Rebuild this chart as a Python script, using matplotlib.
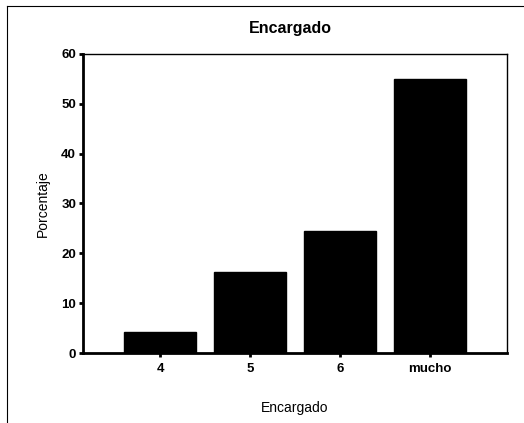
import matplotlib
matplotlib.use("Agg")
import matplotlib.pyplot as plt
from matplotlib.lines import Line2D

categories = ["4", "5", "6", "mucho"]
porcentaje = [4.2, 16.3, 24.5, 55.0]
yticks = [0, 10, 20, 30, 40, 50, 60]

plt.rcParams['font.family'] = ['Liberation Sans', 'DejaVu Sans']

W, H = 524, 423
fig = plt.figure(figsize=(W / 100, H / 100), dpi=100)
fig.patch.set_facecolor("white")

# axes box in pixels: left 83, right 507, top 54, bottom 353
ax = fig.add_axes([83 / W, 1 - 353 / H, (507 - 83) / W, (353 - 54) / H])
x = list(range(len(categories)))
ax.bar(x, porcentaje, width=0.79, color="black", edgecolor="black")
ax.set_xlim(-0.856, 3.856)
ax.set_ylim(0, 60)
ax.set_yticks(yticks)
ax.set_yticklabels([str(t) for t in yticks], fontsize=9.5, fontweight="bold")
ax.set_xticks(x)
ax.set_xticklabels(categories, fontsize=9.5, fontweight="bold")
ax.tick_params(axis="y", direction="out", length=3, width=2, pad=2)
ax.tick_params(axis="x", direction="out", length=3, width=2, pad=4)
for s in ax.spines.values():
    s.set_linewidth(1.0)
ax.spines["left"].set_linewidth(2.0)
ax.spines["bottom"].set_linewidth(2.0)

ax.set_ylabel("Porcentaje", fontsize=10, labelpad=8)
ax.set_xlabel("Encargado", fontsize=10, labelpad=19)
fig.text(290 / W, 1 - 29 / H, "Encargado", ha="center", va="center",
         fontsize=11.5, fontweight="heavy")

# outer frame lines
fig.add_artist(Line2D([7 / W, 7 / W], [0, 1 - 6 / H], transform=fig.transFigure,
                      color="black", linewidth=0.8))
fig.add_artist(Line2D([7 / W, 1], [1 - 6 / H, 1 - 6 / H], transform=fig.transFigure,
                      color="black", linewidth=0.8))

fig.savefig("out.png", dpi=100, facecolor="white")
